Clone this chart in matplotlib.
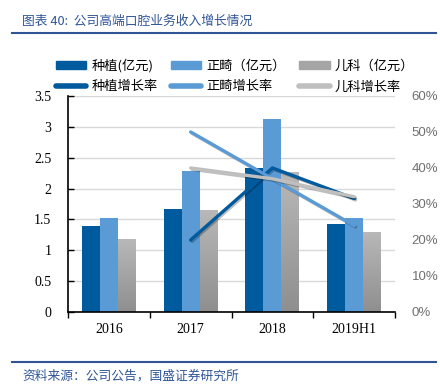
import numpy as np
import matplotlib
matplotlib.use("Agg")
import matplotlib.pyplot as plt
import matplotlib.patheffects as pe
from matplotlib.patches import Patch
from matplotlib.lines import Line2D
from matplotlib.colors import LinearSegmentedColormap

plt.rcParams['font.family'] = ['Noto Sans CJK SC', 'DejaVu Sans']

# DATA
categories = ['2016', '2017', '2018', '2019H1']
implant = [1.40, 1.67, 2.33, 1.43]       # 种植(亿元)
ortho = [1.53, 2.29, 3.12, 1.53]         # 正畸（亿元）
kids = [1.18, 1.65, 2.27, 1.30]          # 儿科（亿元）
implant_g = [None, 0.20, 0.40, 0.315]    # 种植增长率
ortho_g = [None, 0.50, 0.37, 0.24]       # 正畸增长率
kids_g = [None, 0.40, 0.37, 0.32]        # 儿科增长率

c_dark = '#005a9e'
c_light = '#5b9bd5'
c_gray = '#a5a5a5'
c_gline = '#bfbfbf'

fig = plt.figure(figsize=(4.4, 3.9), dpi=100)
ax = fig.add_axes([0.1545, 0.2, 0.7435, 0.554])
ax2 = ax.twinx()

x = np.arange(len(categories))
w = 0.22
b1 = ax.bar(x - w, implant, w, color=c_dark, zorder=2)
b2 = ax.bar(x, ortho, w, color=c_light, zorder=2)
b3 = ax.bar(x + w, kids, w, color=c_gray, zorder=2)

# gray gradient for kids bars
cmap = LinearSegmentedColormap.from_list('g', ['#8f8f8f', '#b8b8b8'])
grad = np.linspace(0, 1, 100).reshape(-1, 1)
for bar in b3:
    bx, bw, bh = bar.get_x(), bar.get_width(), bar.get_height()
    im = ax.imshow(grad, extent=[bx, bx + bw, 0, bh], origin='lower', cmap=cmap,
                   aspect='auto', zorder=2.1)
    im.set_clip_path(bar)

ax.set_xlim(-0.5, 3.5)
ax.set_ylim(0, 3.5)
ax.set_yticks(np.arange(0, 3.51, 0.5))
ax.set_yticklabels(['0', '0.5', '1', '1.5', '2', '2.5', '3', '3.5'],
                   fontfamily='Liberation Serif', fontsize=10)
ax.set_xticks(x)
ax.set_xticklabels(categories, fontfamily='Liberation Serif', fontsize=10)
ax.set_xticks(np.arange(-0.5, 3.6, 1), minor=True)
ax.tick_params(axis='x', which='major', length=0, pad=8)
ax.tick_params(axis='x', which='minor', length=4, direction='out', width=1)
ax.tick_params(axis='y', direction='in', length=4, pad=12, width=1)
ax.grid(axis='y', color='#d9d9d9', lw=1, zorder=0)
ax.set_axisbelow(True)
for s in ['top', 'right']:
    ax.spines[s].set_visible(False)
ax.spines['left'].set_linewidth(1.2)
ax.spines['bottom'].set_linewidth(1.2)

# growth lines
shadow = [pe.SimpleLineShadow(offset=(1, -1), alpha=0.25), pe.Normal()]
xl = x[1:]
l1, = ax2.plot(xl, implant_g[1:], color=c_dark, lw=2.4, solid_capstyle='round', path_effects=shadow)
l2, = ax2.plot(xl, ortho_g[1:], color=c_light, lw=2.4, solid_capstyle='round', path_effects=shadow)
l3, = ax2.plot(xl, kids_g[1:], color=c_gline, lw=2.4, solid_capstyle='round', path_effects=shadow)
ax2.set_ylim(0, 0.6)
ax2.set_yticks(np.arange(0, 0.61, 0.1))
ax2.set_yticklabels(['%d%%' % v for v in range(0, 61, 10)], color='#707070',
                    fontfamily='Liberation Sans', fontsize=9.5)
ax2.tick_params(axis='y', length=0, pad=12)
for s in ax2.spines.values():
    s.set_visible(False)

# legend
handles = [Patch(color=c_dark), Line2D([], [], color=c_dark, lw=4, solid_capstyle='round'),
           Patch(color=c_light), Line2D([], [], color=c_light, lw=4, solid_capstyle='round'),
           Patch(color=c_gray), Line2D([], [], color=c_gline, lw=4, solid_capstyle='round')]
labels = ['种植(亿元)', '种植增长率', '正畸（亿元）', '正畸增长率', '儿科（亿元）', '儿科增长率']
fig.legend(handles, labels, ncol=3, loc='upper left', bbox_to_anchor=(0.1, 0.88),
           frameon=False, fontsize=9.5, handlelength=2.3, handletextpad=0.4,
           columnspacing=1.0, labelspacing=0.6, handleheight=0.6)

# title and source
fig.text(0.05, 0.945, '图表 40:  公司高端口腔业务收入增长情况', color='#2f5597',
         fontsize=9.2, va='center', ha='left')
fig.add_artist(Line2D([0.027, 0.99], [0.915, 0.915], color='#2f5597', lw=1.5))
fig.add_artist(Line2D([0.027, 0.99], [0.072, 0.072], color='#2f5597', lw=1.5))
fig.text(0.05, 0.036, '资料来源：公司公告，国盛证券研究所', color='#2f5597',
         fontsize=9.2, va='center', ha='left')

fig.savefig('out.png', dpi=100)
